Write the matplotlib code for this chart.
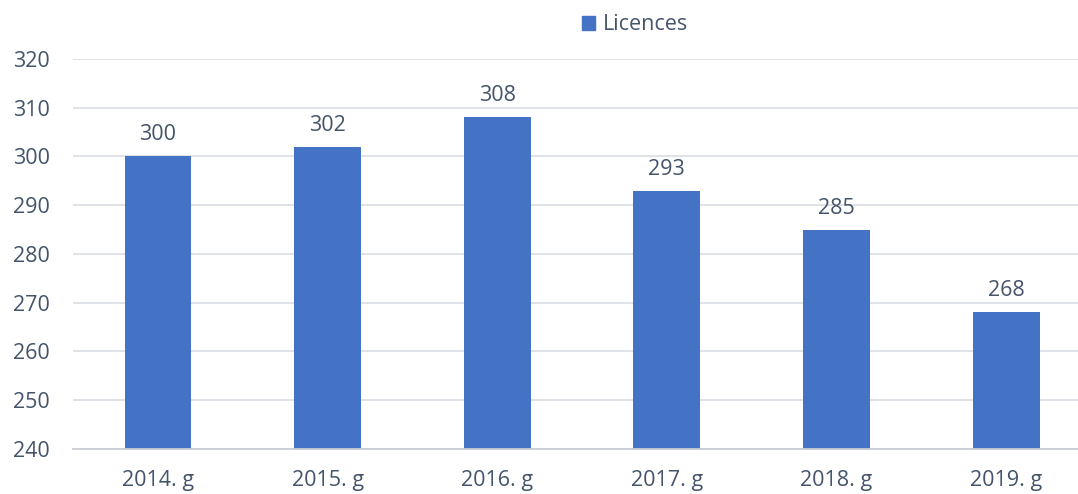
import numpy as np
import matplotlib.pyplot as plt
from matplotlib.patches import Patch

plt.rcParams["font.family"] = ["Open Sans", "DejaVu Sans"]

# ── data ─────────────────────────────────────────────────────────────────────
years = ["2014. g", "2015. g", "2016. g", "2017. g", "2018. g", "2019. g"]
licences = [300, 302, 308, 293, 285, 268]
y_ticks = [240, 250, 260, 270, 280, 290, 300, 310, 320]

BAR = "#4472C4"
TXT = "#44546A"
GRID = "#DCE0E6"
FS = 15.5

# ── plot ─────────────────────────────────────────────────────────────────────
fig = plt.figure(figsize=(10.78, 4.94), dpi=100)
ax = fig.add_axes([0.0679, 0.0911, 0.944, 0.7895])

x = np.arange(len(years))
base = y_ticks[0]
heights = [v - base for v in licences]
ax.bar(x, heights, bottom=base, width=0.395, color=BAR, zorder=3)

for xi, v in zip(x, licences):
    ax.annotate(str(v), (xi, v), xytext=(0, 8), textcoords="offset points",
                ha="center", va="bottom", fontsize=FS, color=TXT)

ax.set_xlim(-0.5, len(years) - 0.5)
ax.set_ylim(y_ticks[0], y_ticks[-1])
ax.set_yticks(y_ticks)
ax.set_xticks(x)
ax.set_xticklabels(years)
ax.tick_params(axis="both", length=0, labelsize=FS, labelcolor=TXT)
ax.tick_params(axis="y", pad=17)
ax.tick_params(axis="x", pad=15)

ax.grid(axis="y", color=GRID, linewidth=1.3, zorder=0)
for s in ["top", "right", "left"]:
    ax.spines[s].set_visible(False)
ax.spines["bottom"].set_color("#C8CCD2")
ax.spines["bottom"].set_linewidth(1.3)
ax.spines["bottom"].set_zorder(4)

fig.legend(handles=[Patch(color=BAR, label="Licences")], loc="center",
           bbox_to_anchor=(635 / 1078, 1 - 25 / 494), frameon=False,
           fontsize=FS, labelcolor=TXT, handlelength=0.6, handleheight=0.6,
           handletextpad=0.35)

fig.savefig("out.png", dpi=100)
